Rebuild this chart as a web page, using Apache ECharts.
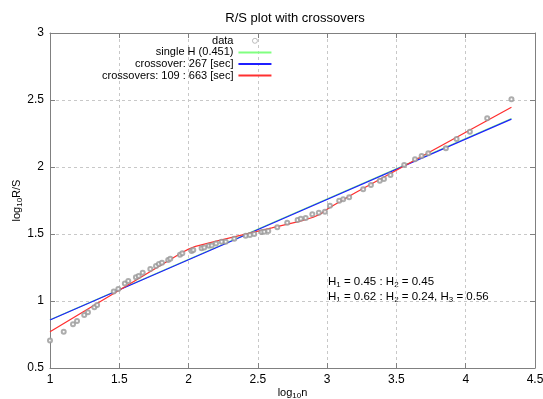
<!DOCTYPE html>
<html><head><meta charset="utf-8">
<script src="https://cdn.jsdelivr.net/npm/echarts@6/dist/echarts.min.js"></script>
<style>html,body{margin:0;padding:0;background:#fff}#c{width:543px;height:399px}</style>
</head><body><div id="c"></div>
<script>
const dataX = [1.0, 1.099, 1.166, 1.195, 1.247, 1.274, 1.32, 1.34, 1.46, 1.493, 1.54, 1.565, 1.62, 1.64, 1.669, 1.724, 1.765, 1.786, 1.808, 1.853, 1.868, 1.938, 1.955, 2.022, 2.034, 2.094, 2.113, 2.147, 2.167, 2.198, 2.239, 2.268, 2.33, 2.412, 2.443, 2.474, 2.527, 2.546, 2.575, 2.64, 2.712, 2.787, 2.81, 2.845, 2.893, 2.94, 2.984, 3.02, 3.087, 3.116, 3.159, 3.26, 3.316, 3.38, 3.41, 3.457, 3.556, 3.634, 3.682, 3.73, 3.857, 3.934, 4.03, 4.155, 4.33];
const dataY = [0.705, 0.77, 0.826, 0.85, 0.895, 0.916, 0.953, 0.97, 1.07, 1.09, 1.13, 1.149, 1.177, 1.187, 1.211, 1.239, 1.261, 1.276, 1.286, 1.306, 1.316, 1.346, 1.356, 1.373, 1.381, 1.393, 1.40, 1.413, 1.415, 1.43, 1.443, 1.443, 1.465, 1.487, 1.493, 1.5, 1.515, 1.517, 1.522, 1.55, 1.584, 1.604, 1.614, 1.62, 1.647, 1.659, 1.666, 1.711, 1.749, 1.759, 1.774, 1.834, 1.866, 1.897, 1.91, 1.94, 2.015, 2.057, 2.082, 2.102, 2.14, 2.209, 2.263, 2.363, 2.505];
const singleX = [1, 4.33];
const singleY = [0.86, 2.362];
const crossX = [1, 2.427, 4.33];
const crossY = [0.858, 1.500, 2.357];
const cross2X = [1, 1.95, 2.0, 2.05, 2.1, 2.2, 2.6, 2.7, 2.8, 2.9, 2.95, 3.0, 3.05, 3.1, 3.2, 4.33];
const cross2Y = [0.771, 1.360, 1.387, 1.407, 1.421, 1.446, 1.545, 1.570, 1.594, 1.625, 1.648, 1.685, 1.716, 1.746, 1.806, 2.446];
const xTicks = [1, 1.5, 2, 2.5, 3, 3.5, 4, 4.5];
const yTicks = [0.5, 1, 1.5, 2, 2.5, 3];
const names = ['data', 'single H (0.451)', 'crossover: 267 [sec]', 'crossovers: 109 : 663 [sec]'];

const zip = (a, b) => a.map((v, i) => [v, b[i]]);
const FONT = 'Liberation Sans, Arial, sans-serif';
const chart = echarts.init(document.getElementById('c'));
const axisCommon = {
  axisLine: {show: true, lineStyle: {color: '#808080', width: 1}},
  axisTick: {show: true, inside: true, length: 5, lineStyle: {color: '#808080'}},
  splitLine: {show: false},
};
const annRich = {a: {fontFamily: FONT, fontSize: 11.5, fill: '#000'}, s: {fontFamily: FONT, fontSize: 8, fill: '#000', padding: [6, 0, 0, 0]}};
chart.setOption({
  animation: false,
  title: {text: 'R/S plot with crossovers', left: 290, top: 7, textAlign: 'center',
    textStyle: {fontFamily: FONT, fontSize: 13, fontWeight: 'normal', color: '#000'}},
  legend: {
    orient: 'vertical', left: 97, top: 30, align: 'right', itemGap: 0, itemWidth: 33, itemHeight: 5,
    textStyle: {fontFamily: FONT, fontSize: 11, color: '#000', lineHeight: 11.6},
    data: names.map((n, i) => i === 0 ? {name: n, icon: 'circle', itemStyle: {color: '#fff', borderColor: '#999', borderWidth: 0.8}} : {name: n})
  },
  grid: {left: 50, right: 8, top: 33, bottom: 31, outerBoundsMode: 'none', containLabel: false},
  xAxis: [
    Object.assign({}, axisCommon, {type: 'value', min: xTicks[0], max: xTicks[xTicks.length - 1], interval: 0.5,
      name: '{a|log}{s|10}{a|n}', nameLocation: 'middle', nameGap: 18, nameMoveOverlap: false,
      nameTextStyle: {rich: {a: {fontFamily: FONT, fontSize: 11, color: '#000'}, s: {fontFamily: FONT, fontSize: 8, color: '#000', padding: [6, 0, 0, 0]}}},
      axisLabel: {fontFamily: FONT, fontSize: 12, color: '#000', margin: 6},
      splitLine: {show: true, lineStyle: {color: '#c8c8c8', type: [3, 3], width: 1}}}),
    Object.assign({}, axisCommon, {type: 'value', position: 'top', min: 1, max: 4.5, interval: 0.5, axisLabel: {show: false}})
  ],
  yAxis: [
    Object.assign({}, axisCommon, {type: 'value', min: yTicks[0], max: yTicks[yTicks.length - 1], interval: 0.5,
      name: '{a|log}{s|10}{a|R/S}', nameLocation: 'middle', nameGap: 26, nameRotate: 90, nameMoveOverlap: false,
      nameTextStyle: {rich: {a: {fontFamily: FONT, fontSize: 11, color: '#000'}, s: {fontFamily: FONT, fontSize: 8, color: '#000', padding: [6, 0, 0, 0]}}},
      axisLabel: {fontFamily: FONT, fontSize: 12, color: '#000', margin: 6},
      splitLine: {show: true, lineStyle: {color: '#c8c8c8', type: [3, 3], width: 1}}}),
    Object.assign({}, axisCommon, {type: 'value', position: 'right', min: 0.5, max: 3, interval: 0.5, axisLabel: {show: false}})
  ],
  series: [
    {name: names[0], type: 'scatter', data: zip(dataX, dataY), symbol: 'emptyCircle', symbolSize: 4,
      itemStyle: {color: '#999', borderWidth: 0.6}, z: 5},
    {name: names[1], type: 'line', data: zip(singleX, singleY), symbol: 'none', itemStyle: {opacity: 0}, lineStyle: {color: '#80ff80', width: 1.3}, color: '#80ff80', z: 2},
    {name: names[2], type: 'line', data: zip(crossX, crossY), symbol: 'none', itemStyle: {opacity: 0}, lineStyle: {color: '#1f1fff', width: 1.3}, color: '#1f1fff', z: 3},
    {name: names[3], type: 'line', data: zip(cross2X, cross2Y), symbol: 'none', itemStyle: {opacity: 0}, lineStyle: {color: '#ff3030', width: 1.3}, color: '#ff3030', z: 4}
  ],
  graphic: [
    {type: 'text', left: 328, top: 276, style: {text: '{a|H}{s|1}{a| = 0.45 : H}{s|2}{a| = 0.45}', rich: annRich}},
    {type: 'text', left: 328, top: 291, style: {text: '{a|H}{s|1}{a| = 0.62 : H}{s|2}{a| = 0.24, H}{s|3}{a| = 0.56}', rich: annRich}}
  ]
});
</script></body></html>
